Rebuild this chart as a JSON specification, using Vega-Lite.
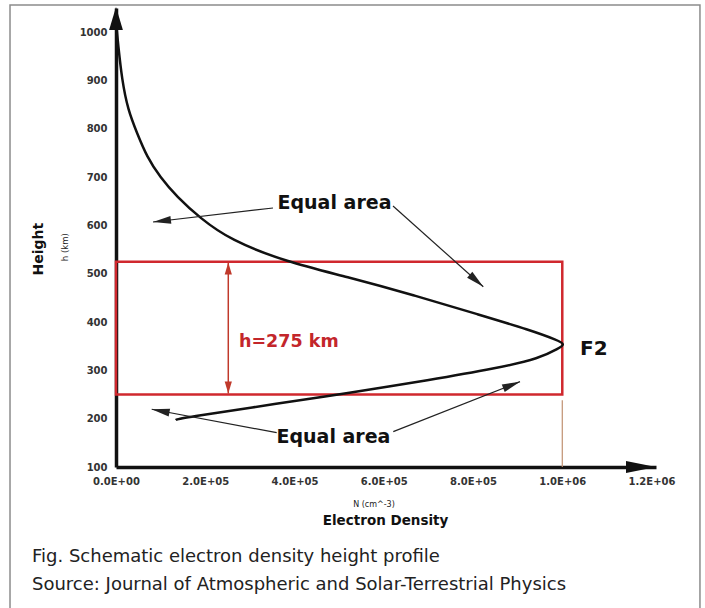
{
  "$schema": "https://vega.github.io/schema/vega-lite/v6.json",
  "width": 540,
  "height": 459,
  "autosize": {"type": "none"},
  "padding": {"left": 116, "top": 8, "right": 49, "bottom": 141},
  "background": "white",
  "data": {"values": [{}]},
  "config": {
    "view": {"stroke": null},
    "axis": {"domainColor": "#111", "domainWidth": 3.5, "ticks": false, "grid": false, "labelFont": "DejaVu Sans", "labelFontWeight": "bold", "labelFontSize": 10, "labelColor": "#333", "title": null}
  },
  "datasets": {
    "curve": [
      {"N": 1000, "h": 1010}, {"N": 4500, "h": 977.6}, {"N": 13400, "h": 901}, {"N": 26900, "h": 838.9},
      {"N": 47100, "h": 791.3}, {"N": 69500, "h": 741.6}, {"N": 98600, "h": 700.2}, {"N": 136700, "h": 658.9},
      {"N": 188200, "h": 615.4}, {"N": 255400, "h": 569.9}, {"N": 382500, "h": 524.3}, {"N": 516900, "h": 493.9},
      {"N": 666100, "h": 456.0}, {"N": 815600, "h": 414.6}, {"N": 927600, "h": 383.6}, {"N": 991000, "h": 362},
      {"N": 1006000, "h": 354.0}, {"N": 993000, "h": 346}, {"N": 950000, "h": 325.0}, {"N": 853000, "h": 304.3},
      {"N": 703600, "h": 280.1}, {"N": 516900, "h": 252.6}, {"N": 367500, "h": 231.9}, {"N": 143400, "h": 200.9},
      {"N": 134400, "h": 197.3}, {"N": 134000, "h": 197}
    ],
    "arrows": [
      {"N1": 351800, "h1": 636.1, "N2": 82900, "h2": 607.1},
      {"N1": 620700, "h1": 640.2, "N2": 823000, "h2": 473.2},
      {"N1": 360100, "h1": 171.1, "N2": 80000, "h2": 219.5},
      {"N1": 621300, "h1": 173.1, "N2": 905200, "h2": 276.6}
    ]
  },
  "layer": [
    {
      "mark": {"type": "rect", "fill": null, "stroke": "#8c8c8c", "strokeWidth": 1.5},
      "encoding": {
        "x": {"datum": -237500, "type": "quantitative", "scale": {"domain": [0, 1210000], "nice": false, "zero": false},
              "axis": {"values": [0, 200000, 400000, 600000, 800000, 1000000, 1200000], "labelExpr": "replace(format(datum.value, '.1e'), 'e+', 'E+0')", "labelFlush": false, "labelOverlap": false, "labelPadding": 9}},
        "x2": {"datum": 1308500},
        "y": {"datum": 1056.2, "type": "quantitative", "scale": {"domain": [100, 1050], "nice": false, "zero": false},
              "axis": {"values": [100, 200, 300, 400, 500, 600, 700, 800, 900, 1000], "format": "d", "labelPadding": 9}},
        "y2": {"datum": -206}
      }
    },
    {
      "mark": {"type": "rect", "fill": null, "stroke": "#d0282e", "strokeWidth": 2.5},
      "encoding": {"x": {"datum": 0, "type": "quantitative"}, "x2": {"datum": 1000000}, "y": {"datum": 525, "type": "quantitative"}, "y2": {"datum": 250}}
    },
    {
      "mark": {"type": "rule", "color": "#c09070", "strokeWidth": 1.2},
      "encoding": {"x": {"datum": 1000000, "type": "quantitative"}, "y": {"datum": 238, "type": "quantitative"}, "y2": {"datum": 100}}
    },
    {
      "data": {"name": "curve"},
      "mark": {"type": "line", "color": "#111", "strokeWidth": 2.5, "interpolate": "basis"},
      "encoding": {"x": {"field": "N", "type": "quantitative"}, "y": {"field": "h", "type": "quantitative"}, "order": {"field": "h", "type": "quantitative"}}
    },
    {
      "data": {"name": "arrows"},
      "mark": {"type": "rule", "color": "#222", "strokeWidth": 1.2},
      "encoding": {"x": {"field": "N1", "type": "quantitative"}, "y": {"field": "h1", "type": "quantitative"}, "x2": {"field": "N2"}, "y2": {"field": "h2"}}
    },
    {
      "mark": {"type": "point", "shape": "M0,0L-0.22,1L0.22,1Z", "filled": true, "size": 1296, "angle": 263.35, "color": "#222", "opacity": 1, "strokeWidth": 0},
      "encoding": {"x": {"datum": 82900, "type": "quantitative"}, "y": {"datum": 607.1, "type": "quantitative"}}
    },
    {
      "mark": {"type": "point", "shape": "M0,0L-0.22,1L0.22,1Z", "filled": true, "size": 1296, "angle": 131.07, "color": "#222", "opacity": 1, "strokeWidth": 0},
      "encoding": {"x": {"datum": 823000, "type": "quantitative"}, "y": {"datum": 473.2, "type": "quantitative"}}
    },
    {
      "mark": {"type": "point", "shape": "M0,0L-0.22,1L0.22,1Z", "filled": true, "size": 1296, "angle": 280.6, "color": "#222", "opacity": 1, "strokeWidth": 0},
      "encoding": {"x": {"datum": 80000, "type": "quantitative"}, "y": {"datum": 219.5, "type": "quantitative"}}
    },
    {
      "mark": {"type": "point", "shape": "M0,0L-0.22,1L0.22,1Z", "filled": true, "size": 1296, "angle": 68.46, "color": "#222", "opacity": 1, "strokeWidth": 0},
      "encoding": {"x": {"datum": 905200, "type": "quantitative"}, "y": {"datum": 276.6, "type": "quantitative"}}
    },
    {
      "mark": {"type": "rule", "color": "#c0392b", "strokeWidth": 1.5},
      "encoding": {"x": {"datum": 251600, "type": "quantitative"}, "y": {"datum": 523, "type": "quantitative"}, "y2": {"datum": 252}}
    },
    {
      "mark": {"type": "point", "shape": "M0,0L-0.3,1L0.3,1Z", "filled": true, "size": 576, "angle": 0, "color": "#c0392b", "opacity": 1, "strokeWidth": 0},
      "encoding": {"x": {"datum": 251600, "type": "quantitative"}, "y": {"datum": 523, "type": "quantitative"}}
    },
    {
      "mark": {"type": "point", "shape": "M0,0L-0.3,1L0.3,1Z", "filled": true, "size": 576, "angle": 180, "color": "#c0392b", "opacity": 1, "strokeWidth": 0},
      "encoding": {"x": {"datum": 251600, "type": "quantitative"}, "y": {"datum": 252, "type": "quantitative"}}
    },
    {
      "mark": {"type": "point", "shape": "M0,0L-0.3,1L0.3,1Z", "filled": true, "size": 2116, "angle": 0, "color": "#111", "opacity": 1, "strokeWidth": 0},
      "encoding": {"x": {"datum": 0, "type": "quantitative"}, "y": {"datum": 1052, "type": "quantitative"}}
    },
    {
      "mark": {"type": "point", "shape": "M0,0L-0.2,1L0.2,1Z", "filled": true, "size": 3600, "angle": 90, "color": "#111", "opacity": 1, "strokeWidth": 0},
      "encoding": {"x": {"datum": 1210000, "type": "quantitative"}, "y": {"datum": 100, "type": "quantitative"}}
    },
    {
      "mark": {"type": "text", "text": "Equal area", "font": "DejaVu Sans", "fontWeight": "bold", "fontSize": 19, "align": "center", "baseline": "alphabetic", "color": "#111"},
      "encoding": {"x": {"datum": 489600, "type": "quantitative"}, "y": {"datum": 634, "type": "quantitative"}}
    },
    {
      "mark": {"type": "text", "text": "Equal area", "font": "DejaVu Sans", "fontWeight": "bold", "fontSize": 19, "align": "center", "baseline": "alphabetic", "color": "#111"},
      "encoding": {"x": {"datum": 487300, "type": "quantitative"}, "y": {"datum": 149.8, "type": "quantitative"}}
    },
    {
      "mark": {"type": "text", "text": "F2", "font": "DejaVu Sans", "fontWeight": "bold", "fontSize": 20, "align": "left", "baseline": "alphabetic", "color": "#111"},
      "encoding": {"x": {"datum": 1039700, "type": "quantitative"}, "y": {"datum": 331.9, "type": "quantitative"}}
    },
    {
      "mark": {"type": "text", "text": "h=275 km", "font": "DejaVu Sans", "fontWeight": "bold", "fontSize": 17.5, "align": "left", "baseline": "alphabetic", "color": "#c3262b"},
      "encoding": {"x": {"datum": 275600, "type": "quantitative"}, "y": {"datum": 348.4, "type": "quantitative"}}
    },
    {
      "mark": {"type": "text", "text": "Height", "font": "DejaVu Sans", "fontWeight": "bold", "fontSize": 14, "align": "center", "baseline": "middle", "angle": 270, "color": "#111"},
      "encoding": {"x": {"datum": -172500, "type": "quantitative"}, "y": {"datum": 550.7, "type": "quantitative"}}
    },
    {
      "mark": {"type": "text", "text": "h (km)", "font": "DejaVu Sans", "fontSize": 8.5, "align": "center", "baseline": "middle", "angle": 270, "color": "#222"},
      "encoding": {"x": {"datum": -114300, "type": "quantitative"}, "y": {"datum": 555, "type": "quantitative"}}
    },
    {
      "mark": {"type": "text", "text": "N (cm^-3)", "font": "DejaVu Sans", "fontSize": 8, "align": "center", "baseline": "alphabetic", "color": "#222"},
      "encoding": {"x": {"datum": 578000, "type": "quantitative"}, "y": {"datum": 17, "type": "quantitative"}}
    },
    {
      "mark": {"type": "text", "text": "Electron Density", "font": "DejaVu Sans", "fontWeight": "bold", "fontSize": 13.5, "align": "center", "baseline": "alphabetic", "color": "#111"},
      "encoding": {"x": {"datum": 604000, "type": "quantitative"}, "y": {"datum": -20, "type": "quantitative"}}
    },
    {
      "mark": {"type": "text", "text": "Fig. Schematic electron density height profile", "font": "DejaVu Sans", "fontSize": 18, "align": "left", "baseline": "alphabetic", "color": "#222"},
      "encoding": {"x": {"datum": -188200, "type": "quantitative"}, "y": {"datum": -96.5, "type": "quantitative"}}
    },
    {
      "mark": {"type": "text", "text": "Source: Journal of Atmospheric and Solar-Terrestrial Physics", "font": "DejaVu Sans", "fontSize": 18, "align": "left", "baseline": "alphabetic", "color": "#222"},
      "encoding": {"x": {"datum": -188200, "type": "quantitative"}, "y": {"datum": -154, "type": "quantitative"}}
    }
  ]
}
